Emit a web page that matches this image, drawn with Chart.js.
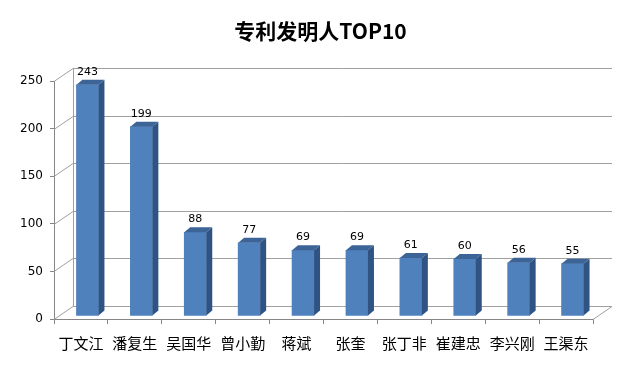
<!DOCTYPE html>
<html><head><meta charset="utf-8">
<script src="https://cdn.jsdelivr.net/npm/chart.js@4/dist/chart.umd.min.js"></script>
<style>html,body{margin:0;padding:0;background:#fff;}#wrap{width:641px;height:369px;}</style>
</head><body><div id="wrap"><canvas id="c" width="641" height="369"></canvas></div>
<script>
const titleText = '专利发明人TOP10';
const categories = ['丁文江','潘复生','吴国华','曾小勤','蒋斌','张奎','张丁非','崔建忠','李兴刚','王渠东'];
const values = [243,199,88,77,69,69,61,60,56,55];
const yTicks = [0,50,100,150,200,250];

const DEPTH_X = 19, DEPTH_Y = -13;   // wall depth
const BAR_SHIFT_X = 6.5, BAR_SHIFT_Y = -3; // bars sit inside the box
const BAR_DX = 6, BAR_DY = -5;        // bar depth

const threeD = {
  id: 'threeD',
  beforeDatasetsDraw(chart) {
    const ctx = chart.ctx, ys = chart.scales.y, a = chart.chartArea;
    ctx.save();
    ctx.strokeStyle = '#a0a0a0';
    ctx.lineWidth = 1;
    yTicks.forEach(v => {
      const y = Math.round(ys.getPixelForValue(v)) + 0.5;
      ctx.beginPath();
      ctx.moveTo(a.left, y);
      ctx.lineTo(a.left + DEPTH_X, y + DEPTH_Y);
      ctx.lineTo(a.right + DEPTH_X, y + DEPTH_Y);
      ctx.stroke();
    });
    const yb = Math.round(ys.getPixelForValue(0)) + 0.5 + DEPTH_Y;
    const yt = Math.round(ys.getPixelForValue(250)) + 0.5 + DEPTH_Y;
    ctx.beginPath();
    ctx.moveTo(a.left + DEPTH_X + 0.5, yb);
    ctx.lineTo(a.left + DEPTH_X + 0.5, yt);
    ctx.stroke();
    const y0 = Math.round(ys.getPixelForValue(0)) + 0.5;
    ctx.beginPath();
    ctx.moveTo(a.right, y0);
    ctx.lineTo(a.right + DEPTH_X, y0 + DEPTH_Y);
    ctx.stroke();
    ctx.restore();
    ctx.save();
    ctx.translate(BAR_SHIFT_X, BAR_SHIFT_Y);
  },
  afterDatasetsDraw(chart) {
    const ctx = chart.ctx;
    const meta = chart.getDatasetMeta(0);
    meta.data.forEach((bar, i) => {
      const p = bar.getProps(['x','y','base','width'], true);
      const l = p.x - p.width/2, r = p.x + p.width/2, t = p.y, b = p.base;
      ctx.fillStyle = '#2f5383';
      ctx.beginPath();
      ctx.moveTo(r, t); ctx.lineTo(r + BAR_DX, t + BAR_DY);
      ctx.lineTo(r + BAR_DX, b + BAR_DY); ctx.lineTo(r, b); ctx.closePath(); ctx.fill();
      ctx.fillStyle = '#3c6496';
      ctx.beginPath();
      ctx.moveTo(l, t); ctx.lineTo(l + BAR_DX, t + BAR_DY);
      ctx.lineTo(r + BAR_DX, t + BAR_DY); ctx.lineTo(r, t); ctx.closePath(); ctx.fill();
      ctx.fillStyle = '#000';
      ctx.font = '11px "DejaVu Sans"';
      ctx.textAlign = 'center';
      ctx.textBaseline = 'middle';
      ctx.fillText(String(values[i]), p.x, t - 13);
    });
    ctx.restore();
  }
};

new Chart(document.getElementById('c'), {
  type: 'bar',
  data: {
    labels: categories,
    datasets: [{
      data: values,
      backgroundColor: '#4f81bd',
      borderWidth: 0,
      barThickness: 22
    }]
  },
  options: {
    responsive: false,
    animation: false,
    devicePixelRatio: 1,
    layout: { padding: 0 },
    plugins: {
      legend: { display: false },
      tooltip: { enabled: false },
      title: {
        display: true,
        text: titleText,
        color: '#000',
        font: { family: '"Noto Sans CJK SC"', size: 21, weight: 'bold', lineHeight: 1.15 },
        padding: { top: 19, bottom: 38 }
      }
    },
    scales: {
      x: {
        grid: { display: true, drawOnChartArea: false, drawTicks: true, tickLength: 5, color: '#868686', offset: true },
        border: { display: true, color: '#868686' },
        ticks: { color: '#000', font: { family: '"Noto Sans CJK SC"', size: 15 }, padding: 10, maxRotation: 0, autoSkip: false },
        afterFit(s) { s.height = 50; }
      },
      y: {
        min: 0, max: 250,
        grid: { display: true, drawOnChartArea: false, drawTicks: true, tickLength: 4, color: '#868686' },
        border: { display: true, color: '#868686' },
        ticks: { stepSize: 50, color: '#000', font: { family: '"DejaVu Sans"', size: 12 }, padding: 7 },
        afterFit(s) { s.width = 54; }
      },
      yR: {
        position: 'right',
        display: true,
        min: 0, max: 250,
        grid: { display: false, drawTicks: false },
        border: { display: false },
        ticks: { display: false },
        afterFit(s) { s.width = 48; }
      }
    }
  },
  plugins: [threeD]
});
</script>
</body></html>
